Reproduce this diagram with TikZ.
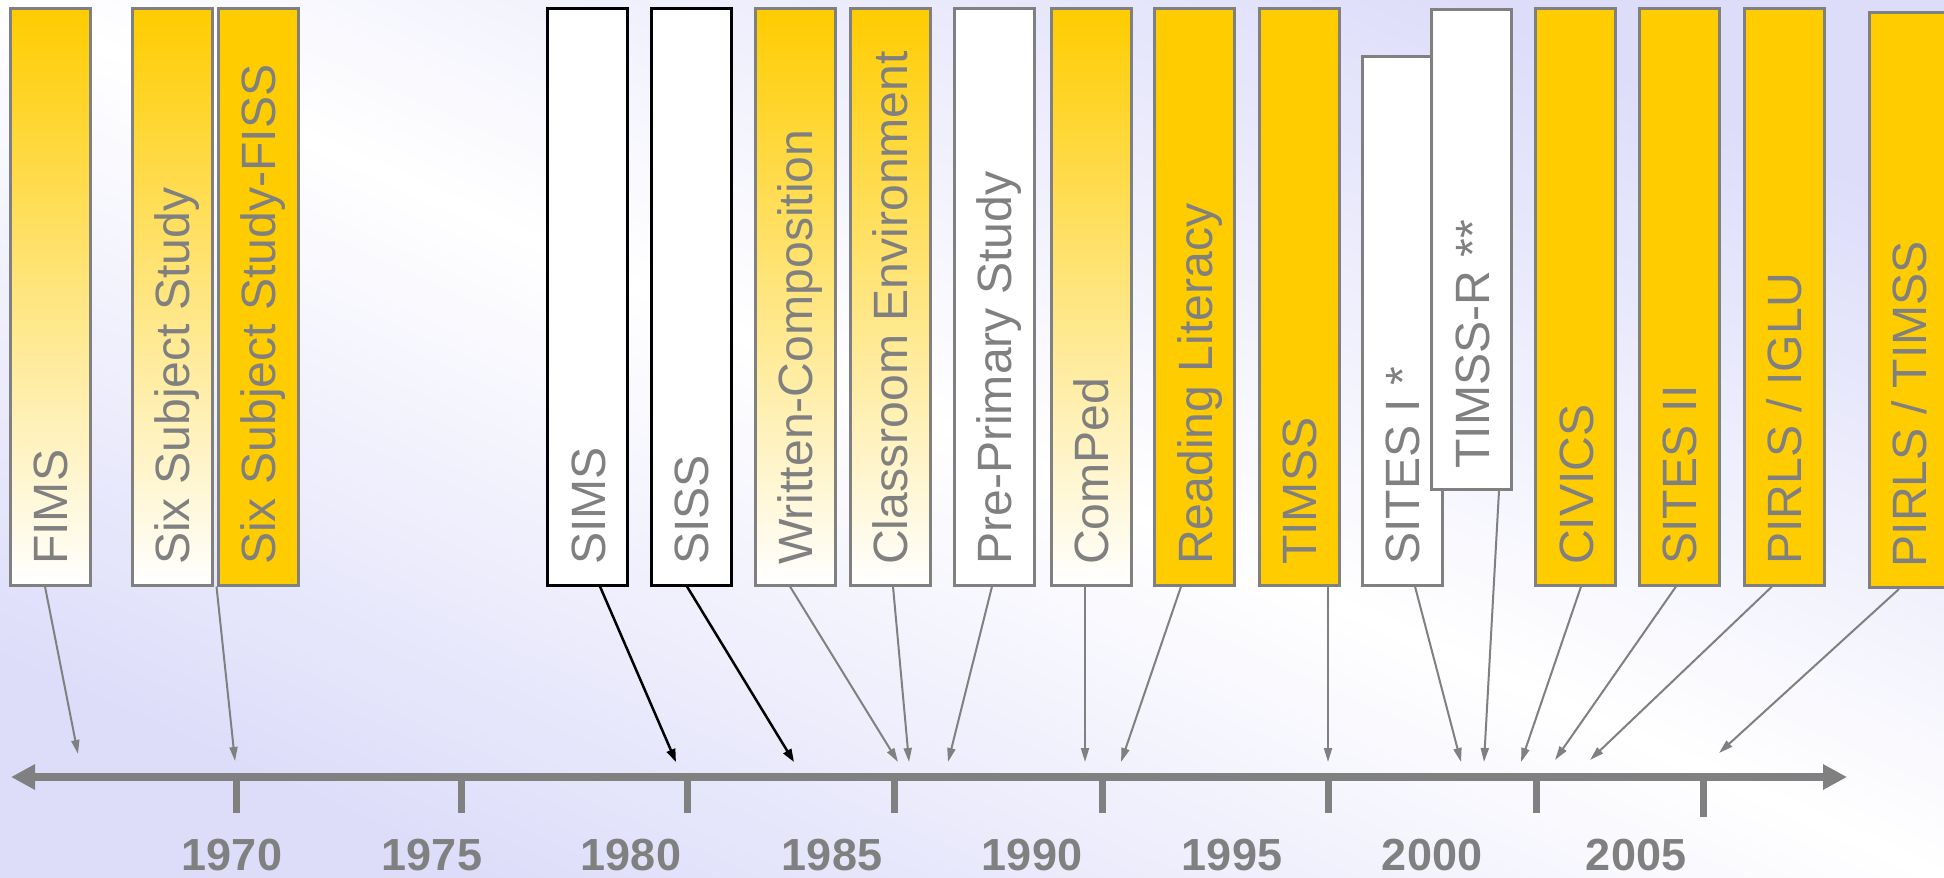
\documentclass[tikz,border=0pt]{standalone}
\usepackage{fontspec}
\setmainfont{Liberation Sans}
\usetikzlibrary{arrows.meta}

\definecolor{oro}{RGB}{255,204,0}
\definecolor{grigio}{RGB}{128,128,128}
\definecolor{lavanda}{RGB}{221,221,250}

\tikzset{
  studio/.style={draw=grigio, line width=0.3mm, minimum width=8mm, minimum height=5.76cm, inner sep=0pt},
  pieno/.style={studio, fill=oro},
  sfumato/.style={studio, top color=oro, bottom color=white},
  vuoto/.style={studio, fill=white},
  nero/.style={studio, draw=black, fill=white},
  nome/.style={rotate=90, anchor=west, inner sep=0pt, text=grigio,
    font=\fontsize{13.7}{16}\selectfont, text height=3.5mm, text depth=0pt},
  freccia/.style={draw=grigio, line width=0.2mm, -{Triangle[length=1.4mm, width=0.8mm]}},
  frecciaN/.style={draw=black, line width=0.25mm, -{Triangle[length=1.3mm, width=0.9mm]}},
  anno/.style={text=grigio, font=\bfseries\fontsize{12.8}{15}\selectfont, inner sep=0pt,
    text height=2.9mm, text depth=0pt},
}

\begin{document}
\begin{tikzpicture}
    % sfondo
    \shade[left color=lavanda, right color=lavanda, middle color=white, shading angle=-24.3]
        (0,0) rectangle (19.44,8.77);
    \useasboundingbox (0,0) rectangle (19.44,8.77);

    % asse del tempo
    \coordinate (inizio) at (0.11,1);
    \coordinate (fine) at (18.47,1);
    \draw[grigio, line width=0.8mm, {Triangle[length=2.4mm, width=2.4mm]}-{Triangle[length=2.4mm, width=2.4mm]}] (inizio) -- (fine);
    \foreach \x in {2.36,4.61,6.87,8.94,11.02,13.28,15.36}
        \draw[grigio, line width=0.7mm] (\x,1) -- (\x,0.64);
    \draw[grigio, line width=0.7mm] (17.03,1) -- (17.03,0.60);
    \foreach \x/\a in {2.32/1970,4.32/1975,6.31/1980,8.32/1985,10.32/1990,12.32/1995,14.32/2000,16.36/2005}
        \node[anno] (a\a) at (\x,0.21) {\a};

    % studi
    \node[sfumato] (fims) at (0.50,5.80) {};
    \node[nome] (fimsT) at ([yshift=2.1mm]fims.south) {FIMS};
    \node[sfumato] (sss) at (1.72,5.80) {};
    \node[nome] (sssT) at ([yshift=2.1mm]sss.south) {Six Subject Study};
    \node[pieno] (fiss) at (2.58,5.80) {};
    \node[nome] (fissT) at ([yshift=2.1mm]fiss.south) {Six Subject Study-FISS};
    \node[nero] (sims) at (5.875,5.80) {};
    \node[nome] (simsT) at ([yshift=2.1mm]sims.south) {SIMS};
    \node[nero] (siss) at (6.91,5.80) {};
    \node[nome] (sissT) at ([yshift=2.1mm]siss.south) {SISS};
    \node[sfumato] (wc) at (7.95,5.80) {};
    \node[nome] (wcT) at ([yshift=2.1mm]wc.south) {Written-Composition};
    \node[sfumato] (ce) at (8.90,5.80) {};
    \node[nome] (ceT) at ([yshift=2.1mm]ce.south) {Classroom Environment};
    \node[vuoto] (pps) at (9.94,5.80) {};
    \node[nome] (ppsT) at ([yshift=2.1mm]pps.south) {Pre-Primary Study};
    \node[sfumato] (comped) at (10.91,5.80) {};
    \node[nome] (compedT) at ([yshift=2.1mm]comped.south) {ComPed};
    \node[pieno] (rl) at (11.945,5.80) {};
    \node[nome] (rlT) at ([yshift=2.1mm]rl.south) {Reading Literacy};
    \node[pieno] (timss) at (12.99,5.80) {};
    \node[nome] (timssT) at ([yshift=2.1mm]timss.south) {TIMSS};
    \node[vuoto, minimum height=5.28cm] (sites) at (14.02,5.56) {};
    \node[nome] (sitesT) at ([yshift=2.1mm]sites.south) {SITES I *};
    \node[vuoto, minimum height=4.79cm] (timssr) at (14.715,6.275) {};
    \node[nome] (timssrT) at ([yshift=2.1mm]timssr.south) {TIMSS-R **};
    \node[pieno] (civics) at (15.755,5.80) {};
    \node[nome] (civicsT) at ([yshift=2.1mm]civics.south) {CIVICS};
    \node[pieno] (sites2) at (16.79,5.80) {};
    \node[nome] (sites2T) at ([yshift=2.1mm]sites2.south) {SITES II};
    \node[pieno] (iglu) at (17.84,5.80) {};
    \node[nome] (igluT) at ([yshift=2.1mm]iglu.south) {PIRLS / IGLU};
    \node[pieno, minimum height=5.75cm] (pirls) at (19.09,5.77) {};
    \node[nome] (pirlsT) at ([yshift=2.1mm]pirls.south) {PIRLS / TIMSS};

    % punte sull'asse
    \coordinate (pFims) at (0.78,1.23);
    \coordinate (pFiss) at (2.35,1.16);
    \coordinate (pSims) at (6.76,1.15);
    \coordinate (pSiss) at (7.94,1.15);
    \coordinate (pWc) at (8.98,1.15);
    \coordinate (pCe) at (9.09,1.15);
    \coordinate (pPps) at (9.48,1.15);
    \coordinate (pComped) at (10.85,1.15);
    \coordinate (pRl) at (11.21,1.15);
    \coordinate (pTimss) at (13.28,1.15);
    \coordinate (pSites) at (14.61,1.15);
    \coordinate (pTimssr) at (14.84,1.15);
    \coordinate (pCivics) at (15.21,1.15);
    \coordinate (pSites2) at (15.55,1.17);
    \coordinate (pIglu) at (15.90,1.17);
    \coordinate (pPirls) at (17.19,1.24);

    \draw[freccia] ([xshift=-0.05cm]fims.south) -- (pFims);
    \draw[freccia] (fiss.south west) -- (pFiss);
    \draw[frecciaN] ([xshift=0.125cm]sims.south) -- (pSims);
    \draw[frecciaN] ([xshift=-0.04cm]siss.south) -- (pSiss);
    \draw[freccia] ([xshift=-0.05cm]wc.south) -- (pWc);
    \draw[freccia] ([xshift=0.03cm]ce.south) -- (pCe);
    \draw[freccia] ([xshift=-0.02cm]pps.south) -- (pPps);
    \draw[freccia] ([xshift=-0.06cm]comped.south) -- (pComped);
    \draw[freccia] ([xshift=-0.135cm]rl.south) -- (pRl);
    \draw[freccia] ([xshift=0.29cm]timss.south) -- (pTimss);
    \draw[freccia] ([xshift=0.13cm]sites.south) -- (pSites);
    \draw[freccia] ([xshift=0.275cm]timssr.south) -- (pTimssr);
    \draw[freccia] ([xshift=0.055cm]civics.south) -- (pCivics);
    \draw[freccia] ([xshift=-0.03cm]sites2.south) -- (pSites2);
    \draw[freccia] ([xshift=-0.12cm]iglu.south) -- (pIglu);
    \draw[freccia] ([xshift=-0.10cm]pirls.south) -- (pPirls);
\end{tikzpicture}
\end{document}
